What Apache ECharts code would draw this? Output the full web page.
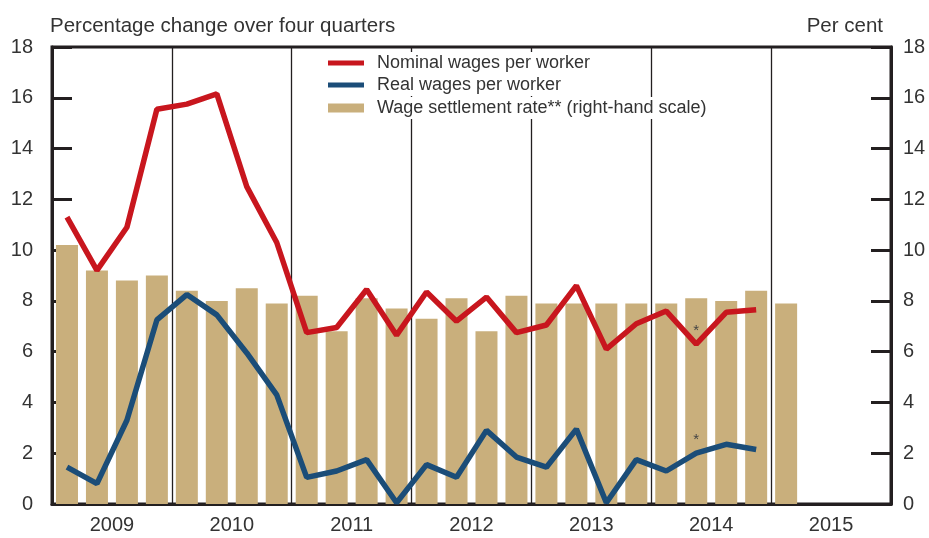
<!DOCTYPE html>
<html>
<head>
<meta charset="utf-8">
<script src="https://cdn.jsdelivr.net/npm/echarts@6/dist/echarts.min.js"></script>
<style>
  html, body { margin: 0; padding: 0; background: #fff; }
  #chart { width: 929px; height: 538px; }
</style>
</head>
<body>
<div id="chart"></div>
<script>
// quarters 2009 Q1 .. 2015 Q4
var years = ['2009', '2010', '2011', '2012', '2013', '2014', '2015']
var quarters = []
years.forEach(function (y) {
  for (var q = 1; q <= 4; q++) quarters.push(y + 'Q' + q)
})

var nominalWages = [11.3, 9.2, 10.9, 15.55, 15.75, 16.15, 12.5, 10.3,
  6.75, 6.95, 8.45, 6.65, 8.35, 7.2, 8.15, 6.75,
  7.05, 8.6, 6.1, 7.1, 7.6, 6.3, 7.55, 7.65]
var realWages = [1.45, 0.8, 3.3, 7.25, 8.25, 7.45, 5.95, 4.3,
  1.05, 1.3, 1.75, 0.05, 1.55, 1.05, 2.9, 1.85,
  1.45, 2.95, 0.05, 1.75, 1.3, 2.0, 2.35, 2.15]
var settlementRate = [10.2, 9.2, 8.8, 9.0, 8.4, 8.0, 8.5, 7.9,
  8.2, 6.8, 8.1, 7.7, 7.3, 8.1, 6.8, 8.2,
  7.9, 7.9, 7.9, 7.9, 7.9, 8.1, 8.0, 8.4, 7.9]
var starIndex = 21 // 2014 Q2 marked with *

var dark = '#231f20'
var textColor = '#333'
var font = 'Liberation Sans'

function withStar(values) {
  return values.map(function (v, i) {
    if (i !== starIndex) return v
    return {
      value: v,
      label: {
        show: true, position: 'top', distance: 6, formatter: '*',
        fontSize: 15, color: '#444', fontFamily: font
      }
    }
  })
}

function legendRow(name, top, h) {
  return {
    data: [{ name: name, icon: 'rect' }],
    left: 328,
    top: top,
    itemWidth: 36,
    itemHeight: h,
    itemGap: 0,
    padding: [2, 8, 2, 0],
    backgroundColor: '#fff',
    selectedMode: false,
    textStyle: { fontSize: 18, color: textColor, fontFamily: font, padding: [0, 0, 0, 8] }
  }
}

var chart = echarts.init(document.getElementById('chart'))
var option = {
  animation: false,
  textStyle: { fontFamily: font },
  grid: {
    left: 52, right: 38, top: 47, bottom: 34,
    show: true, borderColor: dark, borderWidth: 3
  },
  graphic: [
    {
      type: 'text', left: 50, top: 16,
      style: { text: 'Percentage change over four quarters', fontSize: 20.5, fill: textColor, fontFamily: font }
    },
    {
      type: 'text', right: 46, top: 16,
      style: { text: 'Per cent', fontSize: 20.5, fill: textColor, fontFamily: font }
    }
  ],
  legend: [
    legendRow('Nominal wages per worker', 52, 5),
    legendRow('Real wages per worker', 74, 5),
    legendRow('Wage settlement rate** (right-hand scale)', 97, 9)
  ],
  xAxis: [{
    type: 'category',
    data: quarters,
    boundaryGap: true,
    axisLine: { show: true, lineStyle: { color: dark, width: 3 } },
    axisTick: { show: false },
    axisLabel: { show: false },
    splitLine: { show: false }
  }, {
    type: 'category',
    data: years,
    position: 'bottom',
    boundaryGap: true,
    axisLine: { show: false },
    axisTick: { show: false },
    axisLabel: { fontSize: 20, color: textColor, margin: 11, fontFamily: font },
    splitLine: { show: true, interval: 0, lineStyle: { color: dark, width: 1.3 } }
  }],
  yAxis: [{
    type: 'value',
    min: 0, max: 18, interval: 2,
    position: 'left',
    axisLine: { show: true, lineStyle: { color: dark, width: 3 } },
    axisTick: { show: true, inside: true, length: 20, lineStyle: { color: dark, width: 3 } },
    axisLabel: { fontSize: 20, color: textColor, margin: 19, fontFamily: font },
    splitLine: { show: false }
  }, {
    type: 'value',
    min: 0, max: 18, interval: 2,
    position: 'right',
    axisLine: { show: true, lineStyle: { color: dark, width: 3 } },
    axisTick: { show: true, inside: true, length: 20, lineStyle: { color: dark, width: 3 } },
    axisLabel: { fontSize: 20, color: textColor, margin: 12, fontFamily: font },
    splitLine: { show: false }
  }],
  series: [{
    name: 'Wage settlement rate** (right-hand scale)',
    type: 'bar',
    xAxisIndex: 0,
    yAxisIndex: 1,
    barWidth: 22,
    itemStyle: { color: '#c9af7c' },
    data: settlementRate,
    z: 1
  }, {
    name: 'Nominal wages per worker',
    type: 'line',
    xAxisIndex: 0,
    yAxisIndex: 0,
    showSymbol: true,
    symbol: 'circle',
    symbolSize: 0,
    lineStyle: { color: '#c8161e', width: 5.5 },
    itemStyle: { color: '#c8161e' },
    data: withStar(nominalWages),
    z: 3
  }, {
    name: 'Real wages per worker',
    type: 'line',
    xAxisIndex: 0,
    yAxisIndex: 0,
    showSymbol: true,
    symbol: 'circle',
    symbolSize: 0,
    lineStyle: { color: '#1b4d78', width: 5.5 },
    itemStyle: { color: '#1b4d78' },
    data: withStar(realWages),
    z: 3
  }]
}
chart.setOption(option)
</script>
</body>
</html>
